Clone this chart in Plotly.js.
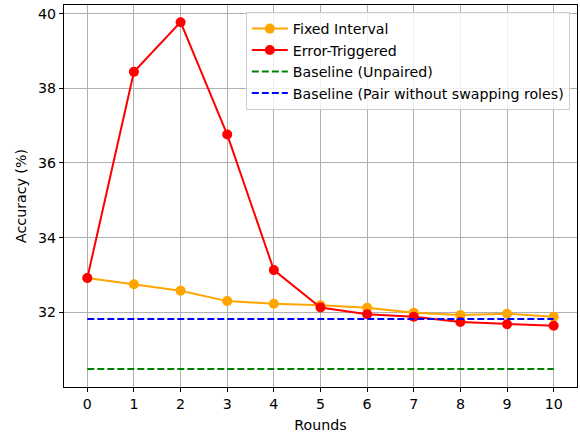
<!DOCTYPE html>
<html>
<head>
<meta charset="utf-8">
<script src="https://cdn.plot.ly/plotly-3.0.1.min.js"></script>
<style>html,body{margin:0;padding:0;background:#fff;}#chart{width:580px;height:435px;}</style>
</head>
<body>
<div id="chart"></div>
<script>
const rounds = [0,1,2,3,4,5,6,7,8,9,10];
const fixedInterval = [32.92,32.75,32.58,32.30,32.23,32.19,32.12,31.99,31.93,31.96,31.88];
const errorTriggered = [32.92,38.44,39.77,36.76,33.13,32.13,31.95,31.88,31.74,31.68,31.64];
const baselineUnpaired = 30.48;
const baselinePair = 31.82;
const yTicks = [32,34,36,38,40];

const font = {family: 'DejaVu Sans, sans-serif', size: 14.2, color: '#000'};

const traces = [
  {x: rounds, y: fixedInterval, name: 'Fixed Interval', mode: 'lines+markers',
   line: {color: 'orange', width: 2}, marker: {color: 'orange', size: 10}},
  {x: rounds, y: errorTriggered, name: 'Error-Triggered', mode: 'lines+markers',
   line: {color: 'red', width: 2}, marker: {color: 'red', size: 10}},
  {x: [rounds[0], rounds[rounds.length-1]], y: [baselineUnpaired, baselineUnpaired], name: 'Baseline (Unpaired)', mode: 'lines',
   line: {color: 'green', width: 2, dash: '7px,3px'}},
  {x: [rounds[0], rounds[rounds.length-1]], y: [baselinePair, baselinePair], name: 'Baseline (Pair without swapping roles)', mode: 'lines',
   line: {color: 'blue', width: 2, dash: '7px,3px'}}
];

const layout = {
  width: 580, height: 435,
  margin: {l: 64, r: 3, t: 5, b: 48},
  paper_bgcolor: '#fff', plot_bgcolor: '#fff',
  font: font,
  showlegend: true,
  legend: {x: 0.986, xanchor: 'right', y: 0.982, yanchor: 'top',
    bgcolor: 'rgba(255,255,255,0.8)', bordercolor: '#cccccc', borderwidth: 1,
    itemwidth: 36,
    font: {family: 'DejaVu Sans, sans-serif', size: 14.2, color: '#000'}, tracegroupgap: 0},
  xaxis: {
    range: [-0.5, 10.5], tickvals: rounds, ticktext: rounds.map(String),
    showgrid: true, gridcolor: '#b0b0b0', gridwidth: 1,
    showline: true, linecolor: '#000', linewidth: 1, mirror: true,
    ticks: 'outside', ticklen: 4, tickcolor: '#000', zeroline: false,
    title: {text: 'Rounds', font: font, standoff: 9}
  },
  yaxis: {
    range: [30.0, 40.23], tickvals: yTicks, ticktext: yTicks.map(String),
    showgrid: true, gridcolor: '#b0b0b0', gridwidth: 1,
    showline: true, linecolor: '#000', linewidth: 1, mirror: true,
    ticks: 'outside', ticklen: 4, tickcolor: '#000', zeroline: false,
    title: {text: 'Accuracy (%)', font: font, standoff: 8}
  }
};

Plotly.newPlot('chart', traces, layout, {displayModeBar: false, staticPlot: true});
</script>
</body>
</html>
